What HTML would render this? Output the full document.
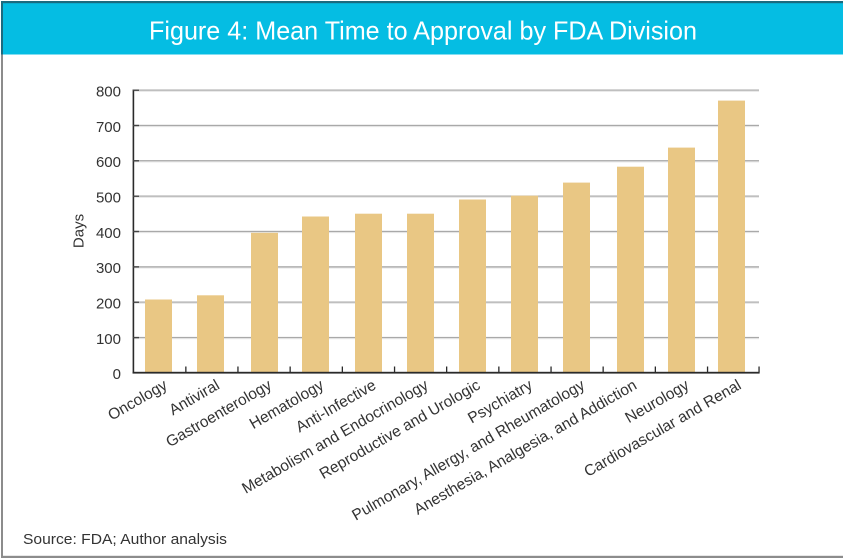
<!DOCTYPE html>
<html>
<head>
<meta charset="utf-8">
<style>
  html, body { margin: 0; padding: 0; background: #ffffff; }
  body { width: 843px; height: 558px; overflow: hidden; }
  svg { display: block; }
  text { font-family: "Liberation Sans", "DejaVu Sans", sans-serif; }
</style>
</head>
<body>
<svg width="843" height="558" viewBox="0 0 843 558" xmlns="http://www.w3.org/2000/svg">
  <!-- background -->
  <rect x="0" y="0" width="843" height="558" fill="#ffffff"/>

  <!-- header -->
  <rect x="1" y="1" width="842" height="53.5" fill="#05bde3"/>
  <rect x="1" y="1" width="842" height="2.2" fill="#1b6a7f"/>
  <rect x="1" y="1" width="2" height="53.5" fill="#1b6a7f"/>
  <text x="423" y="39.5" font-size="26" fill="#ffffff" text-anchor="middle" textLength="548" lengthAdjust="spacingAndGlyphs">Figure 4: Mean Time to Approval by FDA Division</text>

  <!-- frame -->
  <rect x="1" y="54.5" width="2" height="503" fill="#8c8c8c"/>
  <rect x="1" y="555.8" width="842" height="2.2" fill="#8c8c8c"/>

  <!-- gridlines -->
  <g>
    <rect x="133" y="89.5" width="626" height="1.3" fill="#a9a9a9"/>
    <rect x="133" y="90.8" width="626" height="1" fill="#e4e4e4"/>
    <rect x="133" y="124.8" width="626" height="1.3" fill="#a9a9a9"/>
    <rect x="133" y="126.1" width="626" height="1" fill="#e4e4e4"/>
    <rect x="133" y="160.1" width="626" height="1.3" fill="#a9a9a9"/>
    <rect x="133" y="161.4" width="626" height="1" fill="#e4e4e4"/>
    <rect x="133" y="195.5" width="626" height="1.3" fill="#a9a9a9"/>
    <rect x="133" y="196.8" width="626" height="1" fill="#e4e4e4"/>
    <rect x="133" y="230.8" width="626" height="1.3" fill="#a9a9a9"/>
    <rect x="133" y="232.1" width="626" height="1" fill="#e4e4e4"/>
    <rect x="133" y="266.2" width="626" height="1.3" fill="#a9a9a9"/>
    <rect x="133" y="267.5" width="626" height="1" fill="#e4e4e4"/>
    <rect x="133" y="301.5" width="626" height="1.3" fill="#a9a9a9"/>
    <rect x="133" y="302.8" width="626" height="1" fill="#e4e4e4"/>
    <rect x="133" y="336.9" width="626" height="1.3" fill="#a9a9a9"/>
    <rect x="133" y="338.2" width="626" height="1" fill="#e4e4e4"/>
  </g>

  <!-- bars -->
  <g fill="#e9c784">
    <rect x="145" y="299.5" width="27" height="73.2"/>
    <rect x="197" y="295.3" width="27" height="77.4"/>
    <rect x="251" y="232.8" width="27" height="139.9"/>
    <rect x="302" y="216.5" width="27" height="156.2"/>
    <rect x="355" y="213.7" width="27" height="159.0"/>
    <rect x="407" y="213.7" width="27" height="159.0"/>
    <rect x="459" y="199.5" width="27" height="173.2"/>
    <rect x="511" y="195.7" width="27" height="177.0"/>
    <rect x="563" y="182.6" width="27" height="190.1"/>
    <rect x="617" y="166.7" width="27" height="206.0"/>
    <rect x="668" y="147.6" width="27" height="225.1"/>
    <rect x="718" y="100.6" width="27" height="272.1"/>
  </g>

  <!-- axes -->
  <rect x="132.6" y="89.5" width="1.6" height="284" fill="#2a2a2a"/>
  <rect x="132.6" y="371.8" width="627" height="1.8" fill="#2a2a2a"/>
  <!-- y ticks -->
  <g fill="#444">
    <rect x="133" y="89.5" width="6" height="1.4"/>
    <rect x="133" y="124.8" width="6" height="1.4"/>
    <rect x="133" y="160.1" width="6" height="1.4"/>
    <rect x="133" y="195.5" width="6" height="1.4"/>
    <rect x="133" y="230.8" width="6" height="1.4"/>
    <rect x="133" y="266.2" width="6" height="1.4"/>
    <rect x="133" y="301.5" width="6" height="1.4"/>
    <rect x="133" y="336.9" width="6" height="1.4"/>
  </g>
  <!-- x ticks -->
  <g fill="#2a2a2a">
    <rect x="185.2" y="366.5" width="1.3" height="6"/>
    <rect x="237.3" y="366.5" width="1.3" height="6"/>
    <rect x="289.5" y="366.5" width="1.3" height="6"/>
    <rect x="341.7" y="366.5" width="1.3" height="6"/>
    <rect x="393.9" y="366.5" width="1.3" height="6"/>
    <rect x="446.0" y="366.5" width="1.3" height="6"/>
    <rect x="498.2" y="366.5" width="1.3" height="6"/>
    <rect x="550.4" y="366.5" width="1.3" height="6"/>
    <rect x="602.5" y="366.5" width="1.3" height="6"/>
    <rect x="654.7" y="366.5" width="1.3" height="6"/>
    <rect x="706.9" y="366.5" width="1.3" height="6"/>
    <rect x="758.4" y="366.5" width="1.3" height="6"/>
  </g>

  <!-- y tick labels -->
  <g font-size="15" fill="#333" text-anchor="end">
    <text x="121" y="96.5">800</text>
    <text x="121" y="131.8">700</text>
    <text x="121" y="167.2">600</text>
    <text x="121" y="202.5">500</text>
    <text x="121" y="237.9">400</text>
    <text x="121" y="273.2">300</text>
    <text x="121" y="308.6">200</text>
    <text x="121" y="343.9">100</text>
    <text x="121" y="379.2">0</text>
  </g>

  <!-- y axis title -->
  <text x="0" y="0" font-size="15" fill="#333" text-anchor="middle" transform="translate(83.5,231) rotate(-90)">Days</text>

  <!-- x category labels -->
  <g font-size="15.5" fill="#333" text-anchor="end">
    <text transform="translate(168.4,388) rotate(-30)">Oncology</text>
    <text transform="translate(220.6,388) rotate(-30)">Antiviral</text>
    <text transform="translate(272.7,388) rotate(-30)">Gastroenterology</text>
    <text transform="translate(324.9,388) rotate(-30)">Hematology</text>
    <text transform="translate(377.1,388) rotate(-30)">Anti-Infective</text>
    <text transform="translate(429.3,388) rotate(-30)">Metabolism and Endocrinology</text>
    <text transform="translate(481.4,388) rotate(-30)">Reproductive and Urologic</text>
    <text transform="translate(533.6,388) rotate(-30)">Psychiatry</text>
    <text transform="translate(585.8,388) rotate(-30)">Pulmonary, Allergy, and Rheumatology</text>
    <text transform="translate(637.9,388) rotate(-30)">Anesthesia, Analgesia, and Addiction</text>
    <text transform="translate(690.1,388) rotate(-30)">Neurology</text>
    <text transform="translate(742.3,388) rotate(-30)">Cardiovascular and Renal</text>
  </g>

  <!-- source -->
  <text x="23" y="544" font-size="15" fill="#333" textLength="204" lengthAdjust="spacingAndGlyphs">Source: FDA; Author analysis</text>
</svg>
</body>
</html>
